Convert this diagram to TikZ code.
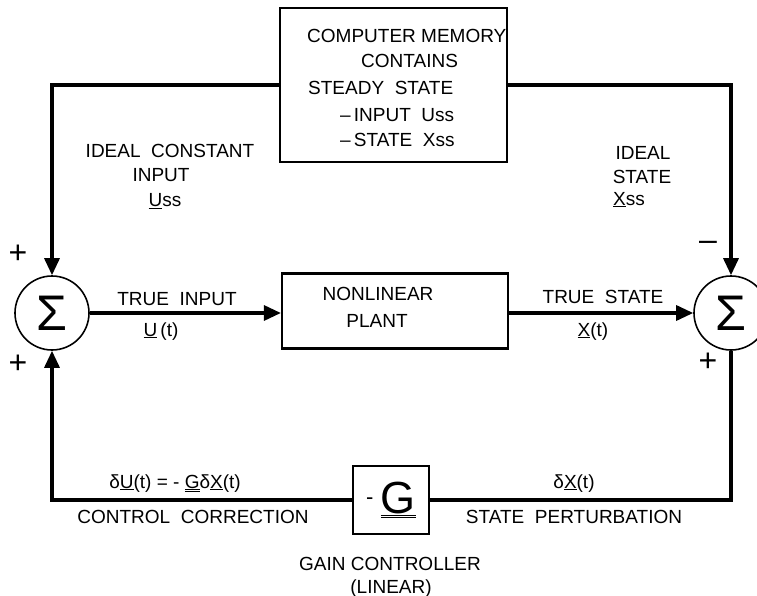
\documentclass[tikz,border=0pt]{standalone}
\usepackage{fontspec}
\setmainfont{Liberation Sans}
\usetikzlibrary{arrows.meta}

\begin{document}
\begin{tikzpicture}[x=1pt, y=-1pt, >={Triangle[length=17pt, width=15pt]},
  block/.style={draw, line width=2.2pt, inner sep=0pt},
  sumnode/.style={draw, circle, line width=1.6pt, minimum size=74pt, inner sep=0pt, font=\fontsize{50}{50}\selectfont},
  conn/.style={line width=3.2pt},
  lbl/.style={inner sep=0pt, anchor=base, font=\fontsize{19}{23}\selectfont},
  sgn/.style={inner sep=0pt, font=\fontsize{32}{32}\selectfont}]
  \useasboundingbox (0,0) rectangle (757,596);
  \clip (0,0) rectangle (757,596);
  \fill[white] (0,0) rectangle (757,596);
  % blocks
  \node[block, minimum width=227pt, minimum height=154pt] (memory) at (393.5,85) {};
  \node[block, minimum width=226pt, minimum height=75pt] (plant) at (395,311) {};
  \node[block, minimum width=76pt, minimum height=68pt, font=\fontsize{45}{45}\selectfont] (gain) at (391,500) {{\fontsize{22}{22}\selectfont\raisebox{9pt}{-}}\,\underline{\underline{G}}};
  \node[sumnode] (sumin) at (52,313) {Σ};
  \node[sumnode] (sumout) at (731,313) {Σ};
  % text in memory box
  \foreach \x/\y/\t [count=\i] in {307/43/COMPUTER MEMORY, 361/68/CONTAINS, 308/95/STEADY\ \ STATE, 340/122/–\,INPUT\ \ Uss, 340/147/–\,STATE\ \ Xss}
    \node[lbl, anchor=base west] (mem\i) at (\x,\y) {\t};
  \node[lbl] (plant1) at (378,300) {NONLINEAR};
  \node[lbl] (plant2) at (377,327) {PLANT};
  % connectors
  \draw[conn, ->] (memory.west) -| (sumin.north);
  \draw[conn, ->] (memory.east) -| (sumout.north);
  \draw[conn, ->] (sumin.east) -- (sumin.east -| plant.west);
  \draw[conn, ->] (sumout.west -| plant.east) -- (sumout.west);
  \draw[conn] (sumout.south) |- (gain.east);
  \draw[conn, ->] (gain.west) -| (sumin.south);
  % signal labels
  \node[lbl] (ideal1) at (170,158) {IDEAL\ \ CONSTANT};
  \node[lbl] (ideal2) at (161,182) {INPUT};
  \node[lbl] (ideal3) at (165,207) {\underline{U}ss};
  \node[lbl] (xss1) at (643,160) {IDEAL};
  \node[lbl] (xss2) at (642,183) {STATE};
  \node[lbl] (xss3) at (629,205) {\underline{X}ss};
  \node[lbl] (uin1) at (177,305) {TRUE\ \ INPUT};
  \node[lbl] (uin2) at (161,336) {\underline{U}\,(t)};
  \node[lbl] (xout1) at (603,303) {TRUE\ \ STATE};
  \node[lbl] (xout2) at (593,336) {\underline{X}(t)};
  \node[lbl] (du1) at (175,488) {δ\underline{U}(t) = - \underline{\underline{G}}δ\underline{X}(t)};
  \node[lbl] (du2) at (193,523) {CONTROL\ \ CORRECTION};
  \node[lbl] (dx1) at (574,488) {δ\underline{X}(t)};
  \node[lbl] (dx2) at (574,523) {STATE\ \ PERTURBATION};
  \node[lbl] (gain1) at (390,570) {GAIN CONTROLLER};
  \node[lbl] (gain2) at (391,593) {(LINEAR)};
  % signs
  \node[sgn] (s1) at (18,254) {+};
  \node[sgn] (s2) at (18,364) {+};
  \node[sgn] (s3) at (708,246) {–};
  \node[sgn] (s4) at (708,362) {+};
\end{tikzpicture}
\end{document}
